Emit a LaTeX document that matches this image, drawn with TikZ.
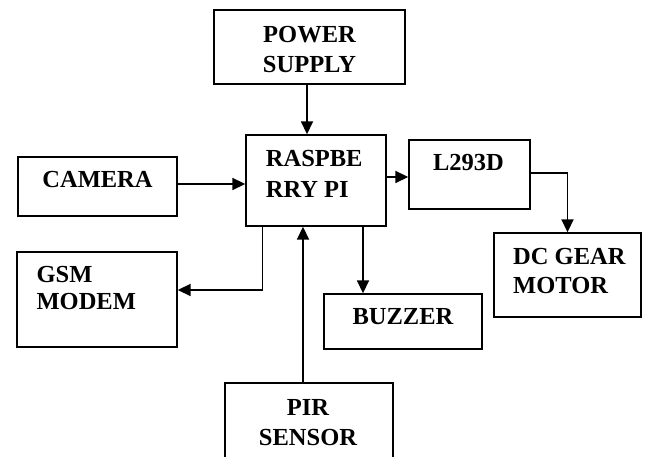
\documentclass[tikz,border=0pt]{standalone}
\usepackage{fontspec}
\setmainfont{Liberation Serif}
\usetikzlibrary{arrows.meta,calc}
\tikzset{
  blk/.style={draw=black, line width=1.4pt, rectangle, inner sep=0pt, fill=none},
  lbl/.style={inner sep=0pt, font=\fontsize{24.5}{30}\selectfont\bfseries, text=black},
  arr/.style={line width=1.8pt, -{Triangle[length=13pt,width=12pt]}},
}
\begin{document}
\begin{tikzpicture}[x=1pt,y=1pt]
\useasboundingbox (0,0) rectangle (649,457);
\clip (0,0) rectangle (649,457);
\fill[white] (0,0) rectangle (649,457);
% boxes
\node[blk, minimum width=191pt, minimum height=74pt] (ps) at (309.5,410) {};
\node[blk, minimum width=140pt, minimum height=91pt] (rpi) at (316,276.5) {};
\node[blk, minimum width=159pt, minimum height=59pt] (cam) at (97.5,270.5) {};
\node[blk, minimum width=121pt, minimum height=69pt] (l293) at (469.5,282.5) {};
\node[blk, minimum width=147pt, minimum height=84pt] (dc) at (567.5,182) {};
\node[blk, minimum width=160pt, minimum height=95pt] (gsm) at (97,157.5) {};
\node[blk, minimum width=158pt, minimum height=55pt] (buz) at (403,135.5) {};
\node[blk, minimum width=168pt, minimum height=92pt] (pir) at (309,28) {};
% labels
\node[lbl, align=center] (tps) at (309.5,407.2) {POWER\\SUPPLY};
\node[lbl, align=left, anchor=west, font=\fontsize{24.5}{31}\selectfont\bfseries] (trpi) at (265.7,283) {RASPBE\\RRY PI};
\node[lbl] (tcam) at (97.5,277) {CAMERA};
\node[lbl] (tl293) at (468.5,294) {L293D};
\node[lbl, align=left, anchor=west, font=\fontsize{24.5}{29}\selectfont\bfseries] (tdc) at (513,185.5) {DC GEAR\\MOTOR};
\node[lbl, align=left, anchor=west, font=\fontsize{24.5}{27}\selectfont\bfseries] (tgsm) at (36.4,168.7) {GSM\\MODEM};
\node[lbl] (tbuz) at (403,140) {BUZZER};
\node[lbl, align=center] (tpir) at (308,34) {PIR\\SENSOR};
% connectors
\draw[arr] ([xshift=-2.5pt]ps.south) -- ([xshift=-2.5pt]ps.south |- rpi.north);
\draw[arr] ([yshift=2.5pt]cam.east) -- ([yshift=2.5pt]cam.east -| rpi.west);
\draw[arr] ([yshift=3.5pt]rpi.east) -- ([yshift=3.5pt]rpi.east -| l293.west);
\draw[arr] ([yshift=1.5pt]l293.east) -| (dc.north);
\draw[arr] ([xshift=-53.5pt]rpi.south) |- ([yshift=9.5pt]gsm.east);
\draw[arr] ([xshift=-6pt]pir.north) -- ([xshift=-6pt]pir.north |- rpi.south);
\draw[arr] ([xshift=47pt]rpi.south) -- ([xshift=47pt]rpi.south |- buz.north);
\end{tikzpicture}
\end{document}
